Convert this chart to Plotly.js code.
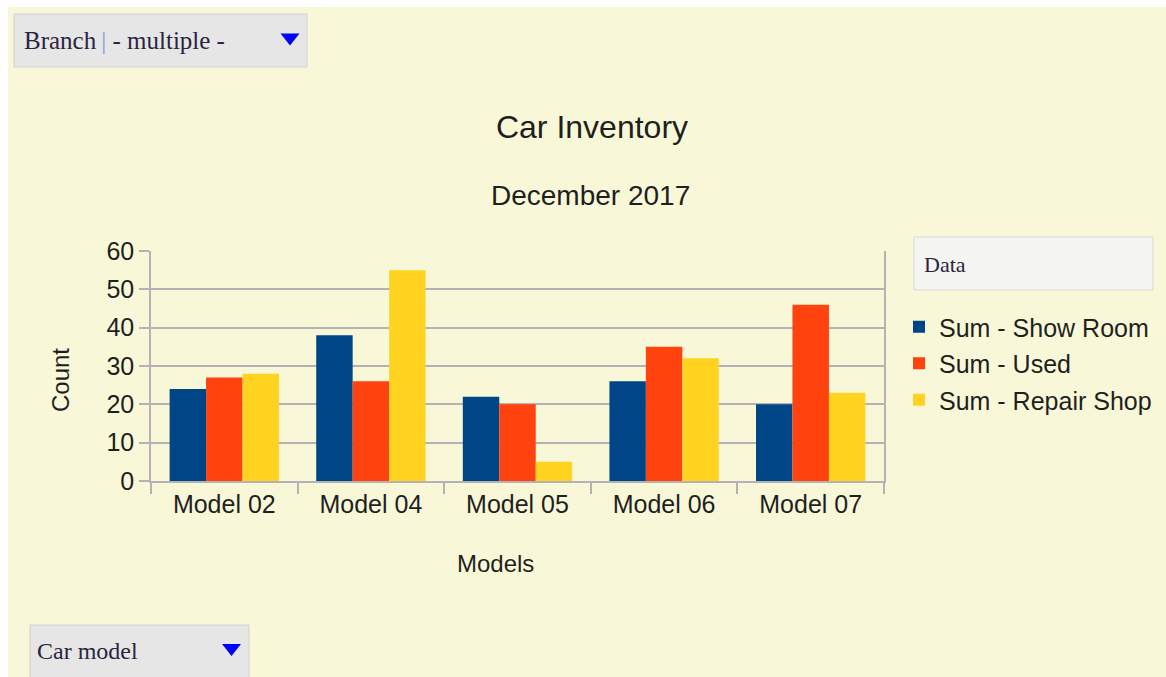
<!DOCTYPE html>
<html>
<head>
<meta charset="utf-8">
<script src="https://cdn.plot.ly/plotly-3.0.1.min.js"></script>
<style>
html,body{margin:0;padding:0;background:#f8f8d8;}
#chart{width:1166px;height:677px;}
</style>
</head>
<body>
<div id="chart"></div>
<script>
// ---- data ----
const models = ["Model 02", "Model 04", "Model 05", "Model 06", "Model 07"];
const showRoom = [24, 38, 22, 26, 20];
const used = [27, 26, 20, 35, 46];
const repairShop = [28, 55, 5, 32, 23];
const seriesNames = ["Sum - Show Room", "Sum - Used", "Sum - Repair Shop"];
const seriesColors = ["#004586", "#ff420e", "#ffd320"];

// ---- geometry helpers (screen px -> paper) ----
const W = 1166, H = 677;
const L = 151, R = 282, T = 251, B = 196;
const PW = W - L - R, PH = H - T - B;
const px = x => (x - L) / PW;
const py = y => (H - B - y) / PH;

function rectPx(x0, y0, x1, y1, fill, line, lw) {
  return {
    type: 'rect', layer: 'below',
    xref: 'paper', yref: 'paper',
    xsizemode: 'pixel', ysizemode: 'pixel',
    xanchor: 0, yanchor: 0,
    x0: x0 - L, x1: x1 - L,
    y0: (H - B) - y0, y1: (H - B) - y1,
    fillcolor: fill,
    line: {color: line || fill, width: lw === undefined ? 0 : lw}
  };
}
function triPx(cx, cy, w, h, color) {
  const x0 = cx - w / 2 - L, x1 = cx + w / 2 - L, xm = cx - L;
  const yt = (H - B) - (cy - h / 2), yb = (H - B) - (cy + h / 2);
  return {
    type: 'path', layer: 'above',
    xref: 'paper', yref: 'paper',
    xsizemode: 'pixel', ysizemode: 'pixel',
    xanchor: 0, yanchor: 0,
    path: `M${x0},${yt} L${x1},${yt} L${xm},${yb} Z`,
    fillcolor: color, line: {width: 0}
  };
}

const values = [showRoom, used, repairShop];
const traces = values.map((v, i) => ({
  type: 'bar',
  x: models,
  y: v,
  name: seriesNames[i],
  legendgroup: 'g' + i,
  marker: {color: seriesColors[i], line: {width: 0}},
  hoverinfo: 'x+y+name'
}));

const sans = '"Liberation Sans", Arial, sans-serif';
const serif = '"Liberation Serif", "Times New Roman", serif';
const txt = '#1f1f1f';

const layout = {
  width: W, height: H,
  margin: {l: L, r: R, t: T, b: B, pad: 0, autoexpand: false},
  paper_bgcolor: '#f8f8d8',
  plot_bgcolor: '#f8f8d8',
  font: {family: sans, size: 25, color: txt},
  title: {
    text: 'Car Inventory',
    font: {family: sans, size: 32, color: txt},
    x: 592 / W, xanchor: 'center', xref: 'container',
    y: 1 - 127 / H, yanchor: 'middle', yref: 'container'
  },
  barmode: 'group',
  bargap: 0.254,
  bargroupgap: 0,
  xaxis: {
    type: 'category',
    showgrid: false,
    showline: true, linecolor: '#b3b3b3', linewidth: 1.5,
    ticks: 'outside', tickson: 'boundaries', ticklen: 11, tickcolor: '#b3b3b3', tickwidth: 1.5,
    tickfont: {family: sans, size: 25, color: txt},
    zeroline: false, automargin: false,
    fixedrange: true
  },
  yaxis: {
    range: [0, 60], dtick: 10, tick0: 0,
    showgrid: true, gridcolor: '#b3b3b3', gridwidth: 1.5,
    showline: true, linecolor: '#b3b3b3', linewidth: 1.5, mirror: true,
    ticks: 'outside', ticklen: 10, tickcolor: '#b3b3b3', tickwidth: 1.5,
    tickfont: {family: sans, size: 25, color: txt},
    zeroline: false, automargin: false,
    fixedrange: true
  },
  showlegend: true,
  legend: {
    x: px(899), xanchor: 'left',
    y: py(304), yanchor: 'top',
    bgcolor: 'rgba(0,0,0,0)',
    font: {family: sans, size: 25, color: txt},
    traceorder: 'grouped', tracegroupgap: 1,
    itemclick: false, itemdoubleclick: false
  },
  shapes: [
    // white border strips
    rectPx(0, 0, 8, 677, '#ffffff'),
    rectPx(0, 0, 1166, 7, '#ffffff'),
    // Branch dropdown
    rectPx(14, 14, 307, 67, '#e6e6e6', '#d2d2d2', 1),
    triPx(290, 39.5, 19, 12, '#0000ff'),
    // Data box
    rectPx(914, 237, 1153, 290, '#f4f4f2', '#d8d8d8', 1),
    // Car model dropdown
    rectPx(30, 625, 249, 680, '#e6e6e6', '#d2d2d2', 1),
    triPx(231.5, 650, 19, 12, '#0000ff')
  ],
  annotations: [
    {text: 'December 2017', xref: 'paper', yref: 'paper', x: px(590), y: py(195),
     xanchor: 'center', yanchor: 'middle', showarrow: false,
     font: {family: sans, size: 28, color: txt}},
    {text: 'Count', xref: 'paper', yref: 'paper', x: px(60), y: py(380),
     xanchor: 'center', yanchor: 'middle', showarrow: false, textangle: -90,
     font: {family: sans, size: 24, color: txt}},
    {text: 'Models', xref: 'paper', yref: 'paper', x: px(495), y: py(563),
     xanchor: 'center', yanchor: 'middle', showarrow: false,
     font: {family: sans, size: 24, color: txt}},
    {text: 'Branch\u2009<span style="color:#7f9ccf">|</span> - multiple -', xref: 'paper', yref: 'paper',
     x: px(22), y: py(40), xanchor: 'left', yanchor: 'middle', showarrow: false,
     font: {family: serif, size: 25, color: '#2a2440'}},
    {text: 'Data', xref: 'paper', yref: 'paper',
     x: px(922), y: py(264), xanchor: 'left', yanchor: 'middle', showarrow: false,
     font: {family: serif, size: 22, color: '#2a2440'}},
    {text: 'Car model', xref: 'paper', yref: 'paper',
     x: px(35), y: py(651), xanchor: 'left', yanchor: 'middle', showarrow: false,
     font: {family: serif, size: 24, color: '#2a2440'}}
  ]
};

Plotly.newPlot('chart', traces, layout, {displayModeBar: false, staticPlot: false, responsive: false});
</script>
</body>
</html>
